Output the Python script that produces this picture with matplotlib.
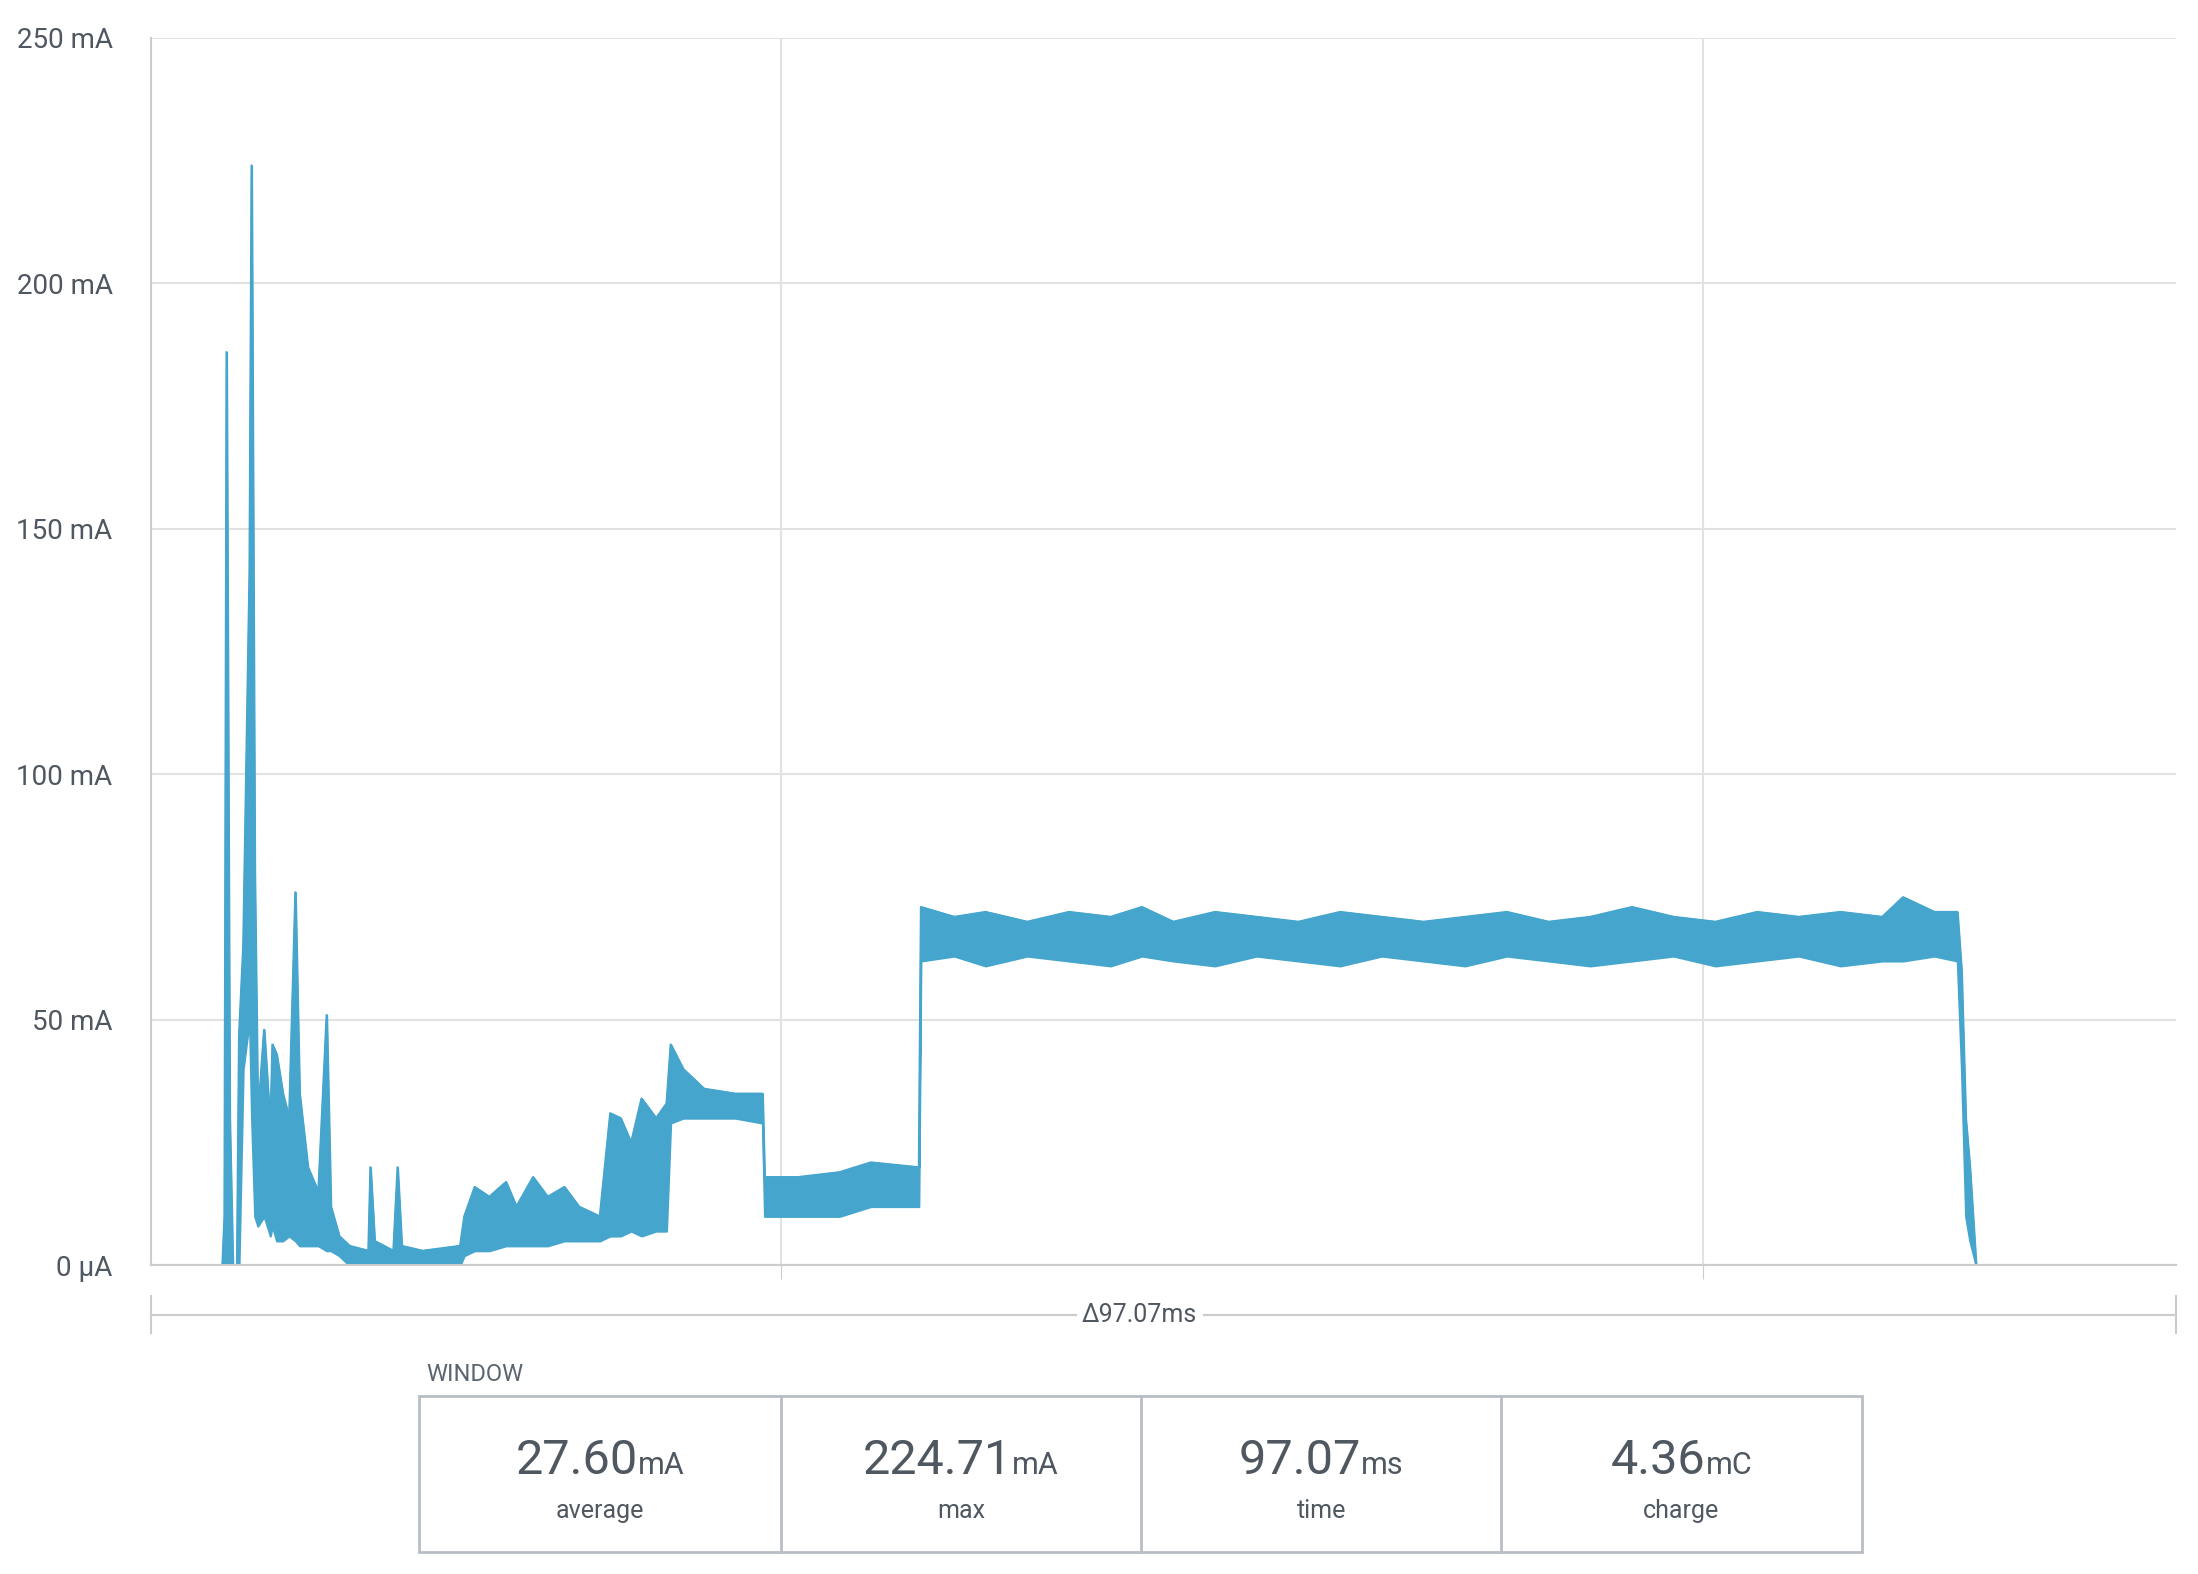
import matplotlib
matplotlib.use("Agg")
import matplotlib.pyplot as plt
from matplotlib.lines import Line2D
from matplotlib.patches import Rectangle

plt.rcParams['font.family'] = ['Roboto', 'DejaVu Sans']

# time (ms), envelope high / low (mA)
t_ms = [0, 3.4, 3.5, 3.6, 3.75, 3.9, 4.1, 4.2, 4.4, 4.7, 4.8, 4.95, 5.1, 5.4, 5.7, 5.8, 6.0, 6.3, 6.6,
        6.9, 7.1, 7.5, 8.0, 8.4, 8.6, 9.0, 9.5, 10.4, 10.5, 10.7, 11.6, 11.8, 12.0, 13, 14.8, 15.0,
        15.5, 16.2, 17.0, 17.5, 18.3, 19, 19.8, 20.5, 21.5, 22.0, 22.5, 23.0, 23.5, 24.2, 24.7, 24.9,
        25.5, 26.5, 28, 29.3, 29.4, 31, 33, 34.5, 36.8, 36.9,
        38.5, 40, 42, 44, 46, 47.5, 49, 51, 53, 55, 57, 59, 61, 63, 65, 67, 69, 71, 73, 75, 77,
        79, 81, 83, 84, 85.5,
        86.6, 86.8, 87.0, 87.2, 87.5, 97.07]
hi = [0, 0, 10, 186, 30, 0, 0, 47, 65, 141, 224, 80, 30, 48, 28, 45, 43, 35, 30,
      76, 35, 20, 15, 51, 12, 6, 4, 3, 20, 5, 3, 20, 4, 3, 4, 10,
      16, 14, 17, 12, 18, 14, 16, 12, 10, 31, 30, 25, 34, 30, 33, 45,
      40, 36, 35, 35, 18, 18, 19, 21, 20, 73,
      71, 72, 70, 72, 71, 73, 70, 72, 71, 70, 72, 71, 70, 71, 72, 70, 71, 73, 71, 70, 72,
      71, 72, 71, 75, 72,
      72, 60, 30, 20, 0, 0]
lo = [0, 0, 0, 0, 0, 0, 0, 0, 40, 50, 30, 10, 8, 10, 6, 8, 5, 5, 6,
      5, 4, 4, 4, 3, 3, 2, 0, 0, 0, 0, 0, 0, 0, 0, 0, 2,
      3, 3, 4, 4, 4, 4, 5, 5, 5, 6, 6, 7, 6, 7, 7, 29,
      30, 30, 30, 29, 10, 10, 10, 12, 12, 62,
      63, 61, 63, 62, 61, 63, 62, 61, 63, 62, 61, 63, 62, 61, 63, 62, 61, 62, 63, 61, 62,
      63, 61, 62, 62, 63,
      62, 40, 10, 5, 0, 0]
yticks = [0, 50, 100, 150, 200, 250]
ylabels = ['0 µA', '50 mA', '100 mA', '150 mA', '200 mA', '250 mA']
grid_x = [30.2, 74.4]
stats_vals = ['27.60', '224.71', '97.07', '4.36']
stats_units = ['mA', 'mA', 'ms', 'mC']
stats_names = ['average', 'max', 'time', 'charge']

C = '#45a5cc'
G = '#e2e2e2'
TXT = '#4f5760'

fig = plt.figure(figsize=(21.98, 15.74), dpi=100)
ax = fig.add_axes([0.0689, 0.196, 0.9209, 0.780])
ax.fill_between(t_ms, lo, hi, color=C, lw=1.5, edgecolor=C)
ax.plot(t_ms, hi, color=C, lw=1.5)
ax.set_xlim(0, 97.07)
ax.set_ylim(0, 250)
ax.set_yticks(yticks)
ax.set_yticklabels(ylabels)
ax.set_xticks(grid_x)
ax.set_xticklabels([])
ax.tick_params(axis='x', length=10, color='#cccccc')
ax.tick_params(axis='y', length=0, pad=28, labelsize=20, labelcolor=TXT)
ax.grid(True, color=G, lw=1.5)
for s in ['top', 'right']:
    ax.spines[s].set_visible(False)
for s in ['left', 'bottom']:
    ax.spines[s].set_color('#cccccc')
    ax.spines[s].set_linewidth(1.5)
ax.set_axisbelow(True)

def fx(px):
    return px / 1568

def fy(py):
    return 1 - py / 1123

fig.add_artist(Line2D([fx(108), fx(1552)], [fy(938)] * 2, color='#cccccc', lw=1.5))
for px in (108, 1552):
    fig.add_artist(Line2D([fx(px)] * 2, [fy(925), fy(951)], color='#cccccc', lw=1.5))
fig.text(fx(813), fy(938), 'Δ97.07ms', ha='center', va='center', fontsize=18, color=TXT,
         bbox=dict(facecolor='white', edgecolor='none', pad=4))

fig.text(fx(304), fy(981), 'WINDOW', ha='left', va='center', fontsize=17, color='#5a6570')
edges = [299, 557, 814, 1071, 1328]
fig.add_artist(Rectangle((fx(299), fy(1107)), fx(1328) - fx(299), fy(996) - fy(1107),
                         transform=fig.transFigure, fill=False, edgecolor='#b8bec4', lw=2))
for e in edges[1:-1]:
    fig.add_artist(Line2D([fx(e)] * 2, [fy(996), fy(1107)], color='#b8bec4', lw=2))

r = fig.canvas.get_renderer()
for i in range(4):
    cx = fx((edges[i] + edges[i + 1]) / 2)
    tv = fig.text(cx, fy(1052), stats_vals[i], ha='left', va='baseline', fontsize=35, color=TXT)
    tu = fig.text(cx, fy(1052), stats_units[i], ha='left', va='baseline', fontsize=22, color=TXT)
    wv = tv.get_window_extent(r).width / fig.bbox.width
    wu = tu.get_window_extent(r).width / fig.bbox.width
    x0 = cx - (wv + wu) / 2
    tv.set_x(x0)
    tu.set_x(x0 + wv)
    fig.text(cx, fy(1078), stats_names[i], ha='center', va='center', fontsize=18, color=TXT)

fig.savefig('out.png', dpi=100, facecolor='white')
